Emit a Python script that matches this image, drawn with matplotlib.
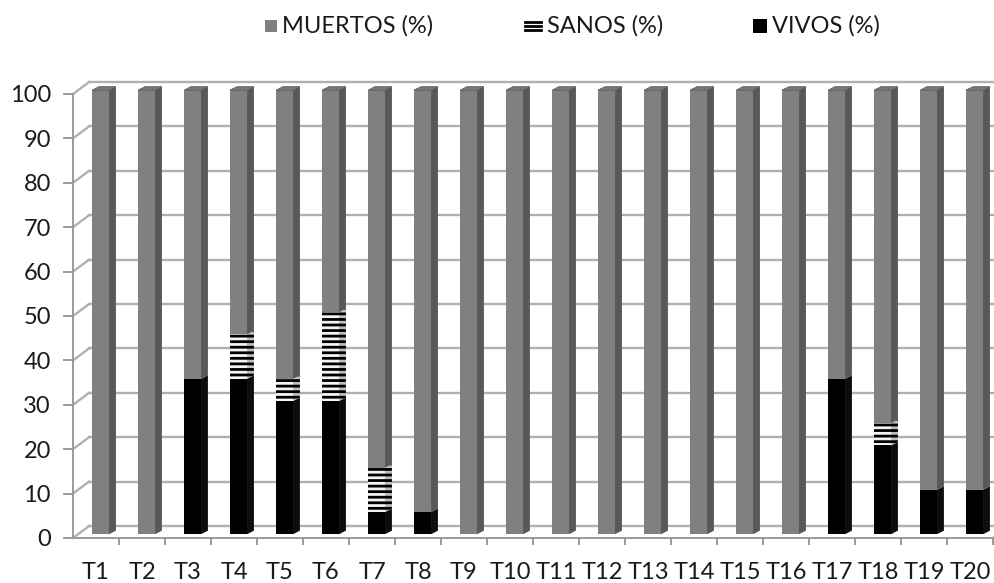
import matplotlib
matplotlib.use("Agg")
import matplotlib.pyplot as plt
from matplotlib.patches import Polygon, Rectangle
from matplotlib.lines import Line2D

categories = [f"T{i}" for i in range(1, 21)]
vivos = [0, 0, 35, 35, 30, 30, 5, 5, 0, 0, 0, 0, 0, 0, 0, 0, 35, 20, 10, 10]
sanos = [0, 0, 0, 10, 5, 20, 10, 0, 0, 0, 0, 0, 0, 0, 0, 0, 0, 5, 0, 0]
muertos = [100, 100, 65, 55, 65, 50, 85, 95, 100, 100, 100, 100, 100, 100,
           100, 100, 65, 75, 90, 90]
series_names = ["MUERTOS (%)", "SANOS (%)", "VIVOS (%)"]
yticks = list(range(0, 101, 10))

plt.rcParams["font.family"] = ["Lato", "DejaVu Sans"]
plt.rcParams["hatch.color"] = "black"
plt.rcParams["hatch.linewidth"] = 2.0

GRID = "#b0b0b0"
AXIS = "#9a9a9a"
TEXT = "#1a1a1a"
FS = 17

# fake 3d: wall depth and bar side/top depth (data units)
DX, DY = 0.35, 2.7
SDX, SDY = 0.15, 0.8
BAR_L, BAR_W = -0.087, 0.37
YOFF = 0.85

STYLES = {
    "vivos":   dict(front="#000000", side="#0d0d0d", top="#111111", hatch=None),
    "sanos":   dict(front="#f4f4f4", side="#bdbdbd", top="#d8d8d8", hatch="---"),
    "muertos": dict(front="#808080", side="#585858", top="#787878", hatch=None),
}

fig = plt.figure(figsize=(9.95, 5.83), dpi=100)
ax = fig.add_axes([73 / 995, 45 / 583, 920 / 995, 444 / 583])
ax.set_xlim(-0.5, len(categories) - 0.5)
ax.set_ylim(0, 100)
n = len(categories)

# back wall and floor
for v in yticks:
    ax.plot([-0.5 + DX, n - 0.5 + DX + 1], [v + DY, v + DY], color=GRID,
            lw=1.7, zorder=0, clip_on=False)
    ax.plot([-0.5, -0.5 + DX], [v, v + DY], color=GRID, lw=1.7, zorder=0,
            clip_on=False)
ax.plot([n - 0.5, n - 0.5 + DX], [0, DY], color=GRID, lw=1.7, zorder=0,
        clip_on=False)


def draw_segment(i, y0, y1, st, with_top):
    xl = i + BAR_L
    xr = xl + BAR_W
    a = y0 + YOFF
    b = y1 + YOFF
    kw = dict(linewidth=0, zorder=3, clip_on=False)
    if st["hatch"]:
        kw["hatch"] = st["hatch"]
    ax.add_patch(Rectangle((xl, a), BAR_W, b - a, facecolor=st["front"], **kw))
    ax.add_patch(Polygon([(xr, a), (xr + SDX, a + SDY), (xr + SDX, b + SDY),
                          (xr, b)], closed=True, facecolor=st["side"], **kw))
    if with_top:
        ax.add_patch(Polygon([(xl, b), (xr, b), (xr + SDX, b + SDY),
                              (xl + SDX, b + SDY)], closed=True,
                             facecolor=st["top"], edgecolor="#5e5e5e",
                             linewidth=0.6, zorder=3, clip_on=False))


for i in range(n):
    stack = [("vivos", vivos[i]), ("sanos", sanos[i]), ("muertos", muertos[i])]
    stack = [(k, v) for k, v in stack if v > 0]
    base = 0
    for j, (k, v) in enumerate(stack):
        draw_segment(i, base, base + v, STYLES[k], j == len(stack) - 1)
        base += v

# axes styling
for s in ["top", "right"]:
    ax.spines[s].set_visible(False)
for s in ["left", "bottom"]:
    ax.spines[s].set_color(AXIS)
    ax.spines[s].set_linewidth(1.4)
ax.set_yticks(yticks)
ax.tick_params(axis="y", length=7, width=1.4, color=AXIS, labelsize=FS,
               labelcolor=TEXT, pad=9)
ax.set_xticks([i + 0.5 for i in range(n)])
ax.set_xticklabels([])
ax.tick_params(axis="x", which="major", length=5, width=1.4, color=AXIS)
ax.set_xticks(range(n), minor=True)
ax.set_xticklabels(categories, minor=True)
ax.tick_params(axis="x", which="minor", length=0, labelsize=FS,
               labelcolor=TEXT, pad=17)
ax.set_facecolor("none")

# legend row
def px(x, y):
    return x / 995, 1 - y / 583

ly = 26
fig.patches.append(Rectangle(px(265, 32), 12 / 995, 12 / 583,
                             transform=fig.transFigure, facecolor="#808080",
                             edgecolor="none"))
for dy in (-4, 0, 4):
    fig.lines.append(Line2D([525 / 995, 541 / 995],
                            [1 - (ly + dy) / 583] * 2,
                            transform=fig.transFigure, color="black", lw=2.0))
fig.patches.append(Rectangle(px(753, 33), 14 / 995, 14 / 583,
                             transform=fig.transFigure, facecolor="black",
                             edgecolor="none"))
for x, name in zip([282, 547, 772], series_names):
    fig.text(*px(x, ly), name, fontsize=FS, color=TEXT, va="center",
             ha="left")

fig.savefig("out.png", dpi=100)
